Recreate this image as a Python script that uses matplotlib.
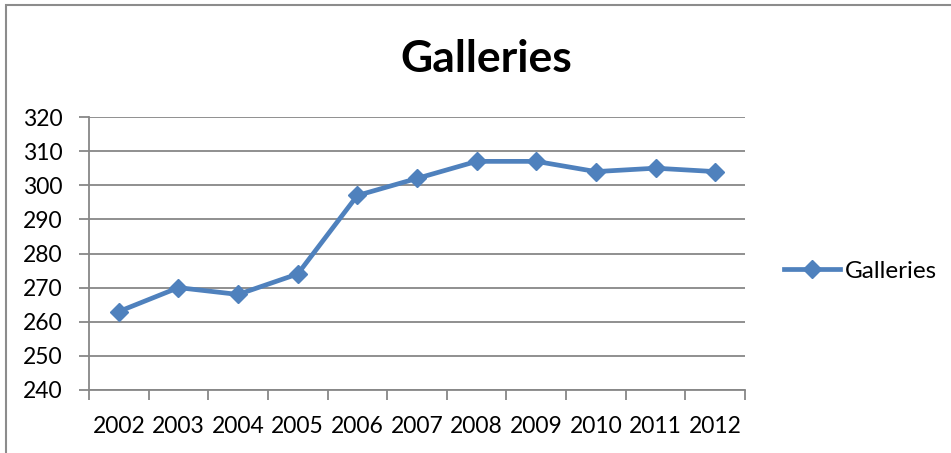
import matplotlib
matplotlib.use("Agg")
import matplotlib.pyplot as plt
from matplotlib.patches import Rectangle
import numpy as np

years = ["2002", "2003", "2004", "2005", "2006", "2007", "2008", "2009", "2010", "2011", "2012"]
galleries = [263, 270, 268, 274, 297, 302, 307, 307, 304, 305, 304]
y_ticks = [240, 250, 260, 270, 280, 290, 300, 310, 320]

BLUE = "#4F81BD"
GRID = "#878787"

plt.rcParams["font.family"] = ["Lato", "DejaVu Sans"]

fig = plt.figure(figsize=(9.51, 4.53), dpi=100)
ax = fig.add_axes([89 / 951, 1 - 390 / 453, (745 - 89) / 951, (390 - 117) / 453])

x = np.arange(len(years))
ax.plot(x, galleries, color=BLUE, lw=3.4, marker="D", markersize=9.5,
        markerfacecolor=BLUE, markeredgecolor=BLUE, label="Galleries")

ax.set_xlim(-0.5, len(years) - 0.5)
ax.set_ylim(y_ticks[0], y_ticks[-1])
ax.set_yticks(y_ticks)
ax.yaxis.grid(True, color=GRID, lw=1.3)
ax.set_axisbelow(True)

# category boundaries as ticks, labels centred on categories
ax.set_xticks(np.arange(-0.5, len(years), 1.0))
ax.set_xticklabels([])
ax.set_xticks(x, minor=True)
ax.set_xticklabels(years, minor=True)
ax.tick_params(axis="x", which="major", direction="out", length=7, width=1.3, color=GRID)
ax.tick_params(axis="x", which="minor", length=0, pad=19, labelsize=16.5)
ax.tick_params(axis="y", direction="out", length=7, width=1.3, color=GRID, labelsize=16.5, pad=12)

for s in ["top", "right"]:
    ax.spines[s].set_visible(False)
for s in ["left", "bottom"]:
    ax.spines[s].set_color(GRID)
    ax.spines[s].set_linewidth(1.3)

fig.text(486 / 951, 1 - 72 / 453, "Galleries", ha="center", va="baseline",
         fontsize=32, fontweight="bold")

ax.legend(loc="center left", bbox_to_anchor=(784 / 951, 1 - 271 / 453),
          bbox_transform=fig.transFigure, frameon=False, fontsize=17.5,
          handlelength=2.3, handletextpad=0.2, borderpad=0, borderaxespad=0)

# outer chart border (right/bottom edges fall outside the image)
fig.patches.append(Rectangle((6 / 951, -0.1), 1.2, 1 - 5 / 453 + 0.1,
                             transform=fig.transFigure, fill=False,
                             edgecolor="#8c8c8c", lw=1.5))

fig.savefig("out.png", dpi=100)
